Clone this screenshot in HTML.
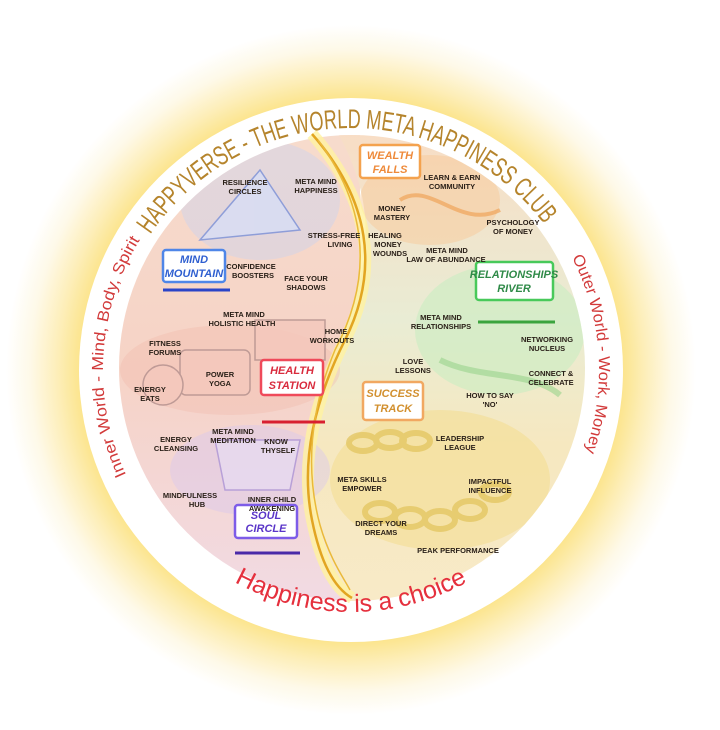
<!DOCTYPE html>
<html><head><meta charset="utf-8"><style>
html,body{margin:0;padding:0;background:#fff;}
svg{display:block;}
.l{font-family:"Liberation Sans",sans-serif;font-weight:bold;font-size:7.5px;fill:#2a2018;text-anchor:middle;}
.s{font-family:"Liberation Sans",sans-serif;font-style:italic;font-weight:bold;font-size:11px;text-anchor:middle;}
</style></head><body>
<svg width="720" height="730" viewBox="0 0 720 730" xmlns="http://www.w3.org/2000/svg">
<defs>
<radialGradient id="glow" cx="351" cy="370" r="345" gradientUnits="userSpaceOnUse">
<stop offset="0.77" stop-color="#fbe282"/>
<stop offset="0.85" stop-color="#fdeeb8"/>
<stop offset="0.93" stop-color="#fef9e8"/>
<stop offset="1" stop-color="#ffffff"/>
</radialGradient>
<linearGradient id="left" x1="0" y1="0" x2="0" y2="1">
<stop offset="0" stop-color="#f7dccd"/>
<stop offset="0.5" stop-color="#f6d3c6"/>
<stop offset="1" stop-color="#f1dbe6"/>
</linearGradient>
<linearGradient id="right" x1="0" y1="0" x2="0" y2="1">
<stop offset="0" stop-color="#f9dcc4"/>
<stop offset="0.4" stop-color="#e9ecd4"/>
<stop offset="0.65" stop-color="#f6e8c0"/>
<stop offset="1" stop-color="#f8eac8"/>
</linearGradient>
<clipPath id="inner"><circle cx="352" cy="368" r="233"/></clipPath>
<path id="arcTop" d="M 131.7 267.7 A 242 242 0 0 1 570.3 267.7"/>
<path id="arcL" d="M 126.2 474.8 A 248 248 0 0 1 140.7 238.6"/>
<path id="arcR" d="M 572 257.4 A 248 248 0 0 1 584 454.8"/>
<path id="arcBot" d="M 212.2 568.2 A 242 242 0 0 0 489.8 568.2"/>
</defs>
<rect width="720" height="730" fill="#fff"/>
<circle cx="351" cy="370" r="345" fill="url(#glow)"/>
<circle cx="351" cy="370" r="272" fill="#fff"/>
<g clip-path="url(#inner)">
<rect x="100" y="120" width="260" height="500" fill="url(#left)"/>
<path d="M 330 120 C 380 200 370 260 345 330 C 320 400 300 460 320 540 C 330 580 350 600 360 620 L 620 620 L 620 120 Z" fill="url(#right)"/>
<ellipse cx="260" cy="200" rx="80" ry="60" fill="#c9d3f0" opacity="0.45"/>
<ellipse cx="230" cy="370" rx="110" ry="45" fill="#f0b7a8" opacity="0.35"/>
<ellipse cx="250" cy="470" rx="80" ry="45" fill="#d9c8ee" opacity="0.45"/>
<ellipse cx="430" cy="200" rx="70" ry="45" fill="#f8c99a" opacity="0.5"/>
<ellipse cx="500" cy="330" rx="85" ry="65" fill="#c9ecc2" opacity="0.6"/>
<ellipse cx="440" cy="480" rx="110" ry="70" fill="#f3dc8a" opacity="0.5"/>
<g fill="none" stroke="#e2c35a" stroke-width="6" opacity="0.7">
<ellipse cx="363" cy="443" rx="14" ry="8"/><ellipse cx="390" cy="440" rx="14" ry="8"/><ellipse cx="416" cy="441" rx="14" ry="8"/>
<ellipse cx="380" cy="512" rx="15" ry="9"/><ellipse cx="410" cy="518" rx="15" ry="9"/><ellipse cx="440" cy="520" rx="15" ry="9"/><ellipse cx="470" cy="510" rx="15" ry="9"/><ellipse cx="495" cy="492" rx="14" ry="8"/>
</g>
<g stroke="#b28f8c" stroke-width="1.5" fill="#f4c8bc" opacity="0.8">
<rect x="255" y="320" width="70" height="40"/>
<rect x="180" y="350" width="70" height="45" rx="6"/>
<circle cx="163" cy="385" r="20"/>
</g>
<path d="M 200 240 L 260 170 L 300 230 Z" fill="#d7def6" stroke="#7a90d8" stroke-width="1.5" opacity="0.8"/>
<path d="M 400 200 C 430 180 460 230 500 210" stroke="#f0a45a" stroke-width="4" fill="none" opacity="0.7"/>
<path d="M 440 360 C 480 380 530 370 560 395" stroke="#9ad48c" stroke-width="6" fill="none" opacity="0.6"/>
<path d="M 215 440 L 300 440 L 290 490 L 225 490 Z" fill="#e7dcf3" stroke="#a48cd4" stroke-width="1.5" opacity="0.7"/>
</g>
<path d="M 312 134 C 370 200 380 270 345 340 C 315 400 300 460 312 520 C 322 570 338 590 352 598" fill="none" stroke="#fff3a0" stroke-width="12" opacity="0.8"/>
<path d="M 312 134 C 370 200 380 270 345 340 C 315 400 300 460 312 520 C 322 570 338 590 352 598" fill="none" stroke="#e2a521" stroke-width="2.5"/>
<path d="M 318 140 C 370 210 372 280 335 350 C 310 410 305 470 320 525 C 330 560 345 580 350 590" fill="none" stroke="#eab93a" stroke-width="1.5"/>
<text font-family="'Liberation Sans',sans-serif" font-size="27" fill="#b5842c"><textPath href="#arcTop" startOffset="38" textLength="460" lengthAdjust="spacingAndGlyphs">HAPPYVERSE - THE WORLD META HAPPINESS CLUB</textPath></text>
<text font-family="'Liberation Sans',sans-serif" font-size="16" fill="#d23a3a"><textPath href="#arcL" startOffset="0" textLength="245" lengthAdjust="spacingAndGlyphs">Inner World - Mind, Body, Spirit</textPath></text>
<text font-family="'Liberation Sans',sans-serif" font-size="16" fill="#d23a3a"><textPath href="#arcR" startOffset="0" textLength="200" lengthAdjust="spacingAndGlyphs">Outer World - Work, Money</textPath></text>
<text font-family="'Liberation Sans',sans-serif" font-size="25" fill="#e5303d"><textPath href="#arcBot" startOffset="50%" text-anchor="middle">Happiness is a choice</textPath></text>
<g>
<rect x="163" y="250" width="62" height="32" rx="3" fill="#fff" stroke="#4f86e8" stroke-width="2.5"/>
<text class="s" fill="#2f5fd0" x="194" y="263">MIND</text><text class="s" fill="#2f5fd0" x="194" y="277">MOUNTAIN</text>
<path d="M 163 290 L 230 290" stroke="#2a44c8" stroke-width="3"/>
<rect x="360" y="145" width="60" height="33" rx="3" fill="#fff" stroke="#f4a24e" stroke-width="2.5"/>
<text class="s" fill="#ee8a3a" x="390" y="159">WEALTH</text><text class="s" fill="#ee8a3a" x="390" y="173">FALLS</text>
<rect x="476" y="262" width="77" height="38" rx="3" fill="#fff" stroke="#48c95a" stroke-width="2.5"/>
<text class="s" fill="#2f8a48" x="514" y="278" font-style="normal">RELATIONSHIPS</text><text class="s" fill="#2f8a48" x="514" y="292" font-style="normal">RIVER</text>
<path d="M 478 322 L 555 322" stroke="#3ba43e" stroke-width="3"/>
<rect x="261" y="360" width="62" height="35" rx="3" fill="#fff" stroke="#ef4a5a" stroke-width="2.5"/>
<text class="s" fill="#d92b3d" x="292" y="374">HEALTH</text><text class="s" fill="#d92b3d" x="292" y="389">STATION</text>
<path d="M 262 422 L 325 422" stroke="#d82030" stroke-width="3"/>
<rect x="363" y="382" width="60" height="38" rx="3" fill="#fff" stroke="#f1a861" stroke-width="2.5"/>
<text class="s" fill="#d2902f" x="393" y="397" font-size="12">SUCCESS</text><text class="s" fill="#d2902f" x="393" y="412" font-size="12">TRACK</text>
<rect x="235" y="505" width="62" height="33" rx="3" fill="#fff" stroke="#7d5ce8" stroke-width="2.5"/>
<text class="s" fill="#5a35c8" x="266" y="519">SOUL</text><text class="s" fill="#5a35c8" x="266" y="532">CIRCLE</text>
<path d="M 235 553 L 300 553" stroke="#4a2aa8" stroke-width="3"/>
</g>
<g class="l">
<text class="l" x="245" y="185">RESILIENCE</text><text class="l" x="245" y="194">CIRCLES</text>
<text class="l" x="316" y="184">META MIND</text><text class="l" x="316" y="193">HAPPINESS</text>
<text class="l" x="334" y="238">STRESS-FREE</text><text class="l" x="340" y="247">LIVING</text>
<text class="l" x="251" y="269">CONFIDENCE</text><text class="l" x="253" y="278">BOOSTERS</text>
<text class="l" x="306" y="281">FACE YOUR</text><text class="l" x="306" y="290">SHADOWS</text>
<text class="l" x="244" y="317">META MIND</text><text class="l" x="242" y="326">HOLISTIC HEALTH</text>
<text class="l" x="336" y="334">HOME</text><text class="l" x="332" y="343">WORKOUTS</text>
<text class="l" x="165" y="346">FITNESS</text><text class="l" x="165" y="355">FORUMS</text>
<text class="l" x="220" y="377">POWER</text><text class="l" x="220" y="386">YOGA</text>
<text class="l" x="150" y="392">ENERGY</text><text class="l" x="150" y="401">EATS</text>
<text class="l" x="176" y="442">ENERGY</text><text class="l" x="176" y="451">CLEANSING</text>
<text class="l" x="233" y="434">META MIND</text><text class="l" x="233" y="443">MEDITATION</text>
<text class="l" x="276" y="444">KNOW</text><text class="l" x="278" y="453">THYSELF</text>
<text class="l" x="190" y="498">MINDFULNESS</text><text class="l" x="197" y="507">HUB</text>
<text class="l" x="272" y="502">INNER CHILD</text><text class="l" x="272" y="511">AWAKENING</text>
<text class="l" x="452" y="180">LEARN &amp; EARN</text><text class="l" x="452" y="189">COMMUNITY</text>
<text class="l" x="392" y="211">MONEY</text><text class="l" x="392" y="220">MASTERY</text>
<text class="l" x="385" y="238">HEALING</text><text class="l" x="388" y="247">MONEY</text><text class="l" x="390" y="256">WOUNDS</text>
<text class="l" x="513" y="225">PSYCHOLOGY</text><text class="l" x="513" y="234">OF MONEY</text>
<text class="l" x="447" y="253">META MIND</text><text class="l" x="446" y="262">LAW OF ABUNDANCE</text>
<text class="l" x="441" y="320">META MIND</text><text class="l" x="441" y="329">RELATIONSHIPS</text>
<text class="l" x="547" y="342">NETWORKING</text><text class="l" x="547" y="351">NUCLEUS</text>
<text class="l" x="413" y="364">LOVE</text><text class="l" x="413" y="373">LESSONS</text>
<text class="l" x="551" y="376">CONNECT &amp;</text><text class="l" x="551" y="385">CELEBRATE</text>
<text class="l" x="490" y="398">HOW TO SAY</text><text class="l" x="490" y="407">'NO'</text>
<text class="l" x="460" y="441">LEADERSHIP</text><text class="l" x="460" y="450">LEAGUE</text>
<text class="l" x="362" y="482">META SKILLS</text><text class="l" x="362" y="491">EMPOWER</text>
<text class="l" x="490" y="484">IMPACTFUL</text><text class="l" x="490" y="493">INFLUENCE</text>
<text class="l" x="381" y="526">DIRECT YOUR</text><text class="l" x="381" y="535">DREAMS</text>
<text class="l" x="458" y="553">PEAK PERFORMANCE</text>
</g>
</svg>
</body></html>
